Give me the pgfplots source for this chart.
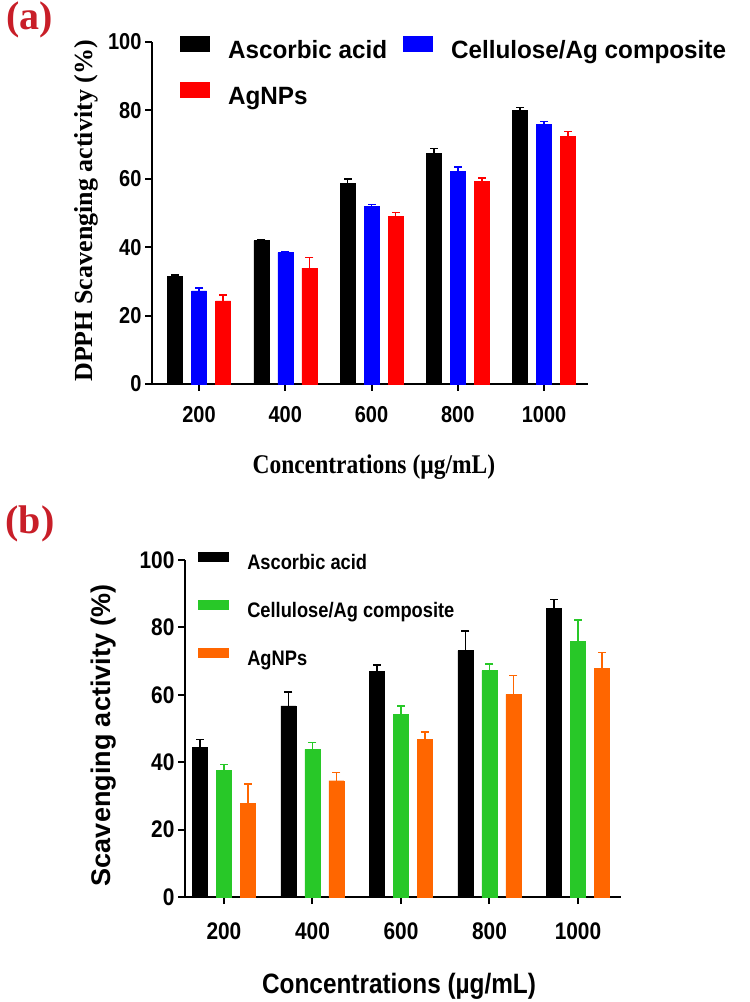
\documentclass[border=0pt]{standalone}
\usepackage{fontspec}
\usepackage{pgfplots}
\usepackage{pgfplotstable}
\pgfplotsset{compat=1.18}
\setmainfont{Liberation Serif}
\newfontfamily\csans{Liberation Sans}[FakeStretch=0.87]
\newfontfamily\msans{Liberation Sans}[FakeStretch=0.97]
\newfontfamily\psans{Liberation Sans}
\newfontfamily\cserif{Liberation Serif}[FakeStretch=0.87]
\newfontfamily\pserif{Liberation Serif}
\definecolor{panelred}{RGB}{200,30,40}
\definecolor{cblue}{RGB}{0,0,255}
\definecolor{cred}{RGB}{255,0,0}
\definecolor{cgreen}{RGB}{40,200,40}
\definecolor{corange}{RGB}{255,102,0}

\pgfplotstableread{
x y e
0 31.4 0.5
1 41.9 0.4
2 58.7 1.3
3 67.4 1.4
4 80.1 0.8
}\aAsc
\pgfplotstableread{
x y e
0 27.2 0.8
1 38.4 0.4
2 52.0 0.5
3 62.1 1.4
4 76.0 0.7
}\aCel
\pgfplotstableread{
x y e
0 24.3 1.7
1 33.9 3.1
2 49.1 1.1
3 59.3 0.9
4 72.5 1.4
}\aAg
\pgfplotstableread{
x y e
0 44.4 2.4
1 56.7 4.2
2 66.9 2.0
3 73.1 5.9
4 85.7 2.6
}\bAsc
\pgfplotstableread{
x y e
0 37.5 1.8
1 43.8 2.1
2 54.3 2.4
3 67.2 1.9
4 75.8 6.4
}\bCel
\pgfplotstableread{
x y e
0 27.8 5.7
1 34.5 2.4
2 46.8 2.2
3 60.1 5.6
4 67.9 4.6
}\bAg

\pgfplotsset{
  panel/.style={
    scale only axis, width=436pt,
    ymin=0, ymax=100, ytick={0,20,...,100},
    xtick={0,1,2,3,4}, xticklabels={200,400,600,800,1000},
    axis x line*=bottom, axis y line*=left,
    axis line style={line width=2pt, -},
    every tick/.style={line width=2pt, black},
    major tick length=7pt, tick align=outside,
    /pgf/number format/assume math mode=true,
    legend cell align=left,
    clip=false,
  },
  bars/.style 2 args={ybar, bar width=15pt, bar shift=#2, fill=#1, draw=#1, line width=0.4pt},
  errs/.style 2 args={forget plot, no marks, draw=none, xshift=#2,
    error bars/.cd, y dir=plus, y explicit,
    error mark=none,
    error bar style={line width=1.5pt, draw=#1}},
  caps/.style 2 args={forget plot, only marks, mark=-, mark size=4pt, xshift=#2,
    mark options={line width=1.5pt, draw=#1}},
}

\begin{document}
\begin{tikzpicture}
\path[use as bounding box] (0,0) rectangle (750pt,1002pt);
\node[text=panelred, font=\pserif\bfseries\fontsize{40}{40}\selectfont] at (30pt,982pt) {(a)};
\node[text=panelred, font=\pserif\bfseries\fontsize{40}{40}\selectfont] at (30pt,478pt) {(b)};

\begin{axis}[panel,
  at={(152pt,618pt)}, anchor=south west,
  height=342pt, xmin=-0.545, xmax=4.51,
  tick label style={font=\csans\bfseries\fontsize{23}{23}\selectfont},
  xticklabel style={yshift=-12pt},
  ylabel={DPPH Scavenging activity (\%)},
  ylabel style={at={(axis description cs:-0.151,0.506)}, anchor=center, font=\pserif\bfseries\fontsize{26}{26}\selectfont},
  xlabel={Concentrations (µg/mL)},
  xlabel style={at={(axis description cs:0.509,-0.243)}, anchor=center, font=\cserif\bfseries\fontsize{27}{27}\selectfont},
  legend columns=2,
  legend image code/.code={\fill[#1, draw=none] (0pt,0pt) rectangle (30pt,16pt);},
  legend style={at={(axis description cs:0.064,1.0175)}, anchor=north west, draw=none, fill=none, inner sep=0pt,
    font=\msans\bfseries\fontsize{25}{25}\selectfont,
    nodes={inner sep=0pt, text height=18pt, text depth=5pt},
    row sep=18pt,
    /tikz/every odd column/.append style={column sep=18pt},
    /tikz/every even column/.append style={column sep=16pt}},
]
\addplot[bars={black}{-24pt}] table[x=x, y=y] {\aAsc};
\addplot[bars={cblue}{0pt}] table[x=x, y=y] {\aCel};
\addplot[bars={cred}{24pt}] table[x=x, y=y] {\aAg};
\legend{Ascorbic acid, Cellulose/Ag composite, AgNPs}
\addplot[errs={black}{-24pt}] table[x=x, y=y, y error=e] {\aAsc};
\addplot[errs={cblue}{0pt}] table[x=x, y=y, y error=e] {\aCel};
\addplot[errs={cred}{24pt}] table[x=x, y=y, y error=e] {\aAg};
\addplot[caps={black}{-24pt}] table[x=x, y expr=\thisrow{y}+\thisrow{e}] {\aAsc};
\addplot[caps={cblue}{0pt}] table[x=x, y expr=\thisrow{y}+\thisrow{e}] {\aCel};
\addplot[caps={cred}{24pt}] table[x=x, y expr=\thisrow{y}+\thisrow{e}] {\aAg};
\end{axis}

\begin{axis}[panel,
  at={(185pt,105pt)}, anchor=south west,
  height=337pt, xmin=-0.44, xmax=4.486,
  tick label style={font=\csans\bfseries\fontsize{24}{24}\selectfont},
  xticklabel style={yshift=-15pt},
  ylabel={Scavenging activity (\%)},
  ylabel style={at={(axis description cs:-0.186,0.48)}, anchor=center, font=\psans\bfseries\fontsize{27}{27}\selectfont},
  xlabel={Concentrations (µg/mL)},
  xlabel style={at={(axis description cs:0.491,-0.265)}, anchor=center, font=\csans\bfseries\fontsize{28}{28}\selectfont},
  legend columns=1,
  legend image code/.code={\fill[#1, draw=none] (0pt,2pt) rectangle (31pt,12pt);},
  legend style={at={(axis description cs:0.030,1.024)}, anchor=north west, draw=none, fill=none, inner sep=0pt,
    font=\csans\bfseries\fontsize{21}{21}\selectfont,
    nodes={inner sep=0pt, text height=15pt, text depth=5pt},
    row sep=26pt,
    /tikz/every odd column/.append style={column sep=18pt}},
]
\addplot[bars={black}{-24pt}] table[x=x, y=y] {\bAsc};
\addplot[bars={cgreen}{0pt}] table[x=x, y=y] {\bCel};
\addplot[bars={corange}{24pt}] table[x=x, y=y] {\bAg};
\legend{Ascorbic acid, Cellulose/Ag composite, AgNPs}
\addplot[errs={black}{-24pt}] table[x=x, y=y, y error=e] {\bAsc};
\addplot[errs={cgreen}{0pt}] table[x=x, y=y, y error=e] {\bCel};
\addplot[errs={corange}{24pt}] table[x=x, y=y, y error=e] {\bAg};
\addplot[caps={black}{-24pt}] table[x=x, y expr=\thisrow{y}+\thisrow{e}] {\bAsc};
\addplot[caps={cgreen}{0pt}] table[x=x, y expr=\thisrow{y}+\thisrow{e}] {\bCel};
\addplot[caps={corange}{24pt}] table[x=x, y expr=\thisrow{y}+\thisrow{e}] {\bAg};
\end{axis}
\end{tikzpicture}
\end{document}
